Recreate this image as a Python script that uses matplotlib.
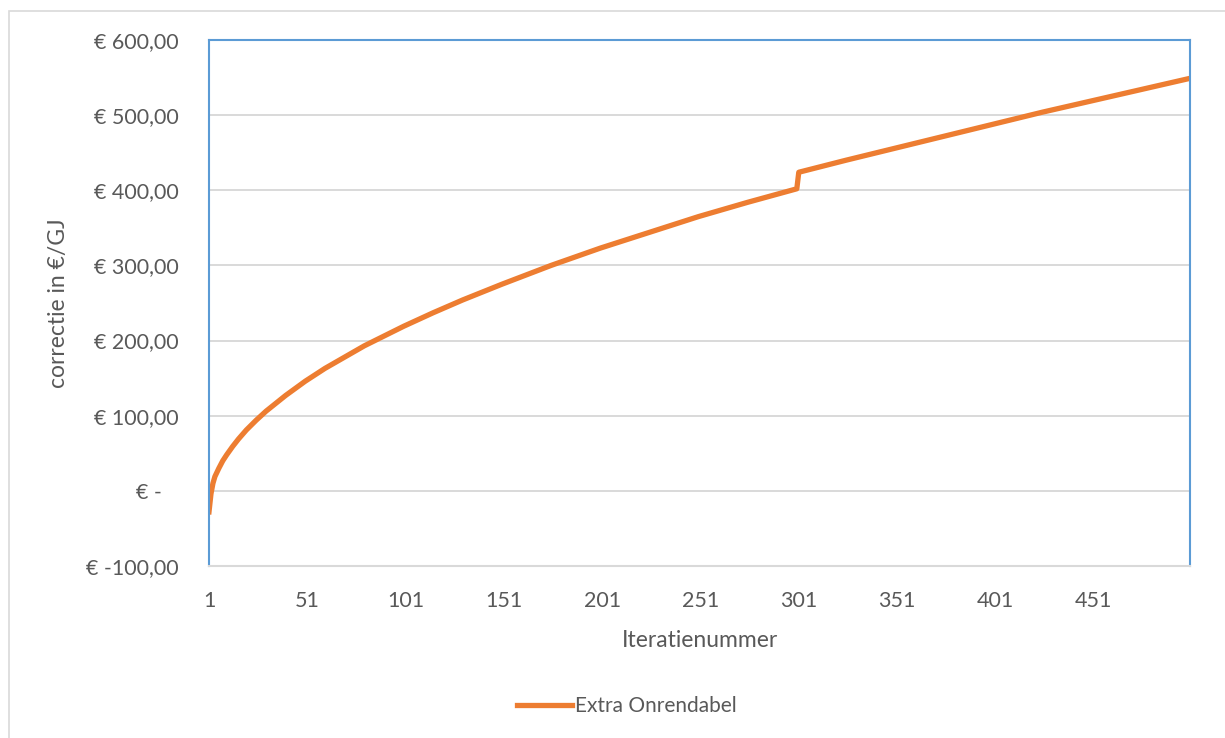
import matplotlib.pyplot as plt
from matplotlib.patches import Rectangle

# values (iteration -> correction in EUR/GJ)
iteraties = [1, 2, 3, 4, 6, 8, 10, 13, 16, 20, 25, 30, 40, 50, 60, 70, 80, 90,
             100, 115, 130, 150, 175, 200, 225, 250, 275, 300,
             301, 325, 350, 375, 400, 425, 450, 475, 500]
correctie = [-28, -4, 10, 19, 30, 40, 48, 59, 69, 81, 94, 106, 127, 146, 163, 178, 193, 206,
             219, 237, 254, 275, 300, 323, 344, 365, 384, 402,
             424, 440, 456, 472, 488, 504, 519, 534, 549]

y_ticks = [-100, 0, 100, 200, 300, 400, 500, 600]
y_labels = ["€ -100,00", "€ -   ", "€ 100,00", "€ 200,00", "€ 300,00",
            "€ 400,00", "€ 500,00", "€ 600,00"]
x_ticks = [1, 51, 101, 151, 201, 251, 301, 351, 401, 451]

plt.rcParams['font.family'] = ['Lato', 'DejaVu Sans']
grey_txt = "#595959"

fig = plt.figure(figsize=(12.25, 7.38), dpi=100)
fig.patches.append(Rectangle((9 / 1225, -0.1), 1.2, 1 - 11 / 738 + 0.1,
                             transform=fig.transFigure, fill=False,
                             edgecolor="#D9D9D9", linewidth=1.2))

ax = fig.add_axes([209 / 1225, 1 - 566 / 738, (1190 - 209) / 1225, (566 - 40) / 738])
ax.plot(iteraties, correctie, color="#ED7D31", linewidth=3.8, label="Extra Onrendabel")

ax.set_xlim(1, 500)
ax.set_ylim(-100, 600)
ax.set_yticks(y_ticks)
ax.set_yticklabels(y_labels)
ax.set_xticks(x_ticks)
ax.tick_params(length=0, labelsize=15.5, labelcolor=grey_txt)
ax.tick_params(axis="y", pad=22)
ax.tick_params(axis="x", pad=18)
ax.grid(axis="y", color="#D9D9D9", linewidth=1.4)
ax.set_axisbelow(True)

for side in ["left", "top", "right"]:
    ax.spines[side].set_color("#5B9BD5")
    ax.spines[side].set_linewidth(1.5)
ax.spines["bottom"].set_color("#D9D9D9")
ax.spines["bottom"].set_linewidth(1.5)

ax.set_xlabel("Iteratienummer", fontsize=16.5, color=grey_txt, labelpad=14)
ax.set_ylabel("correctie in €/GJ", fontsize=16.5, color=grey_txt, labelpad=12)

leg = fig.legend(loc="center", bbox_to_anchor=(627 / 1225, 1 - 706 / 738), frameon=False,
                 fontsize=15, handlelength=2.6, handletextpad=0.15, labelcolor=grey_txt)

fig.savefig("out.png", dpi=100)
